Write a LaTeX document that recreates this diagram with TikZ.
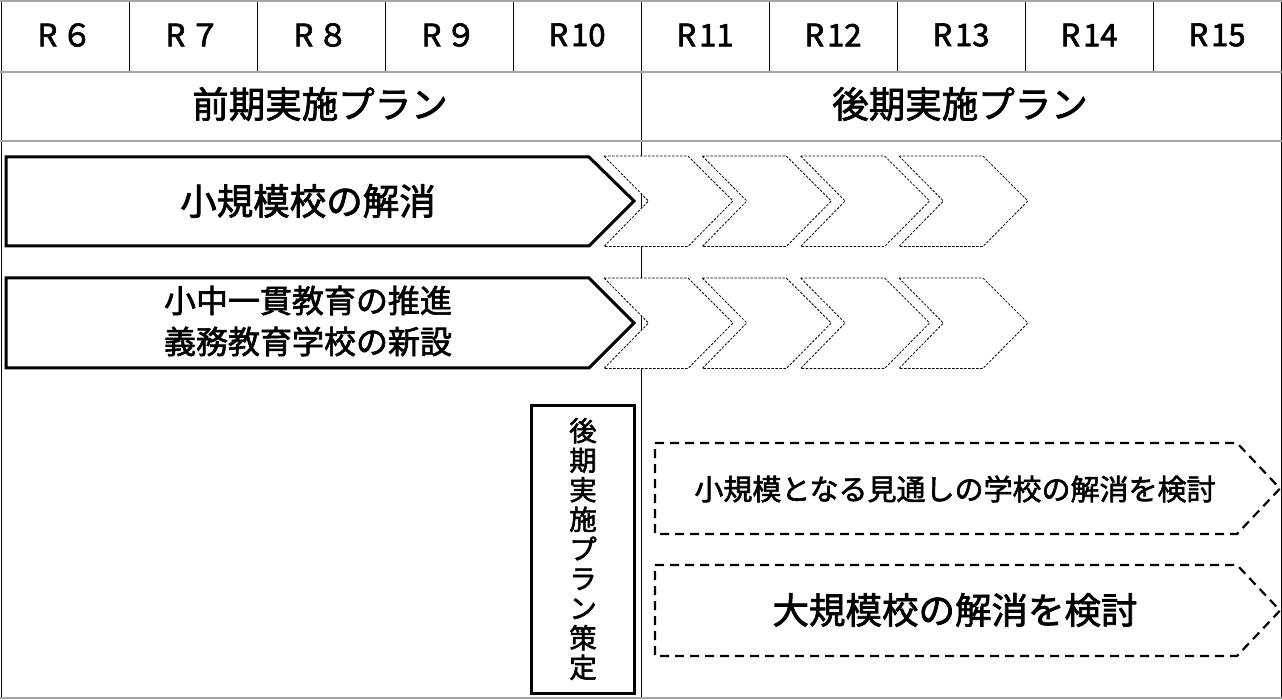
\documentclass[tikz,border=0pt]{standalone}
\usepackage{fontspec}
\setmainfont{Noto Sans CJK JP}[FakeBold=2]
\usetikzlibrary{positioning}

\tikzset{
	hline/.style={gray!70, line width=2pt},
	vline/.style={black, line width=0.8pt},
	plan/.style={black, line width=3pt, fill=white, line join=miter},
	nextplan/.style={black, dash pattern=on 2.5pt off 1.5pt, line width=0.8pt, fill=white},
	study/.style={black, dash pattern=on 9pt off 6pt, line width=2.2pt},
	yearlabel/.style={font=\fontsize{31}{34}\selectfont},
	phaselabel/.style={font=\fontsize{36.5}{40}\selectfont},
}

\begin{document}
\begin{tikzpicture}[x=1pt, y=-1pt]
	\useasboundingbox (0,0) rectangle (1282,700);

	% table frame
	\draw[vline] (1,1) -- (1,698);
	\draw[vline] (1281,1) -- (1281,698);
	\foreach \x in {129,257,385,513,769,897,1025,1153}{
		\draw[vline] (\x,1) -- (\x,72);
	}
	\draw[vline] (641,1) -- (641,698);
	\foreach \y in {1,72,141,698}{
		\draw[hline] (0,\y) -- (1282,\y);
	}

	% years
	\foreach \n/\txt [count=\i from 0] in {r6/R\hspace{4pt}６,r7/R\hspace{4pt}７,r8/R\hspace{4pt}８,r9/R\hspace{4pt}９,
		r10/R\hspace{3pt}10,r11/R\hspace{3pt}11,r12/R\hspace{3pt}12,r13/R\hspace{3pt}13,r14/R\hspace{3pt}14,r15/R\hspace{3pt}15}{
		\node[yearlabel] (\n) at (65+128*\i,35) {\txt};
	}
	\node[phaselabel] (zenki) at (320,104) {前期実施プラン};
	\node[phaselabel] (kouki) at (960,104) {後期実施プラン};

	% continuation chevrons
	\foreach \yc in {201,323}{
		\foreach \i in {0,...,3}{
			\pgfmathsetmacro{\xa}{604+98.3*\i}
			\draw[nextplan] (\xa,\yc-45) -- (\xa+84,\yc-45) -- (\xa+129,\yc) -- (\xa+84,\yc+45.5) -- (\xa,\yc+45.5) -- (\xa+44.5,\yc) -- cycle;
		}
	}

	% first phase arrows
	\draw[plan] (6,157) -- (589,157) -- (634,201) -- (589,246) -- (6,246) -- cycle;
	\draw[plan] (6,278) -- (589,278) -- (634,323) -- (589,368) -- (6,368) -- cycle;
	\node[phaselabel] (shokibo) at (308,201) {小規模校の解消};
	\node[font=\fontsize{32}{41}\selectfont, align=center] (ikkan) at (308,321) {小中一貫教育の推進\\義務教育学校の新設};

	% planning box
	\node[draw, line width=3pt, minimum width=103, minimum height=288, align=center,
		font=\fontsize{27.5}{29.6}\selectfont] (sakutei) at (583,549)
		{後\\期\\実\\施\\プ\\ラ\\ン\\策\\定};

	% to be studied
	\draw[study] (655,443) -- (1237,443) -- (1280,488.5) -- (1237,534) -- (655,534) -- cycle;
	\draw[study] (655,565) -- (1237,565) -- (1280,610.5) -- (1237,656) -- (655,656) -- cycle;
	\node[font=\fontsize{29}{32}\selectfont] (mitoshi) at (955,489) {小規模となる見通しの学校の解消を検討};
	\node[phaselabel] (daikibo) at (955,610) {大規模校の解消を検討};
\end{tikzpicture}
\end{document}
